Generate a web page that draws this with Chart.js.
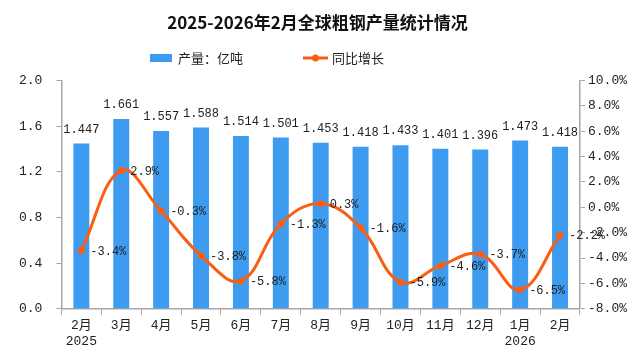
<!DOCTYPE html>
<html>
<head>
<meta charset="utf-8">
<script src="https://cdn.jsdelivr.net/npm/chart.js@4.4.1/dist/chart.umd.min.js"></script>
<style>
  html, body { margin: 0; padding: 0; background: #fff; }
  #wrap { width: 632px; height: 354px; }
</style>
</head>
<body>
<div id="wrap"><canvas id="steelChart" width="632" height="354"></canvas></div>
<script>
// categories and values
const months = [['2月', '2025'], '3月', '4月', '5月', '6月', '7月', '8月', '9月', '10月', '11月', '12月', ['1月', '2026'], '2月'];
const output = [1.447, 1.661, 1.557, 1.588, 1.514, 1.501, 1.453, 1.418, 1.433, 1.401, 1.396, 1.473, 1.418];
const growth = [-3.4, 2.9, -0.3, -3.8, -5.8, -1.3, 0.3, -1.6, -5.9, -4.6, -3.7, -6.5, -2.2];
const leftTicks = [0, 0.4, 0.8, 1.2, 1.6, 2.0];
const rightTicks = [-8, -6, -4, -2, 0, 2, 4, 6, 8, 10];

const BAR_COLOR = '#3d9cf0';
const LINE_COLOR = '#fb5e12';
const MONO = "'Liberation Mono', 'Noto Sans CJK SC', monospace";

// value labels + legend, drawn by hand
const labelsPlugin = {
    id: 'valueLabels',
    afterDatasetsDraw(chart) {
        const ctx = chart.ctx;
        ctx.save();
        ctx.font = '12px ' + MONO;
        ctx.fillStyle = '#222';

        const bars = chart.getDatasetMeta(0).data;
        ctx.textAlign = 'center';
        ctx.textBaseline = 'bottom';
        bars.forEach((bar, i) => {
            ctx.fillText(output[i].toFixed(3), bar.x, bar.y - 8);
        });

        const pts = chart.getDatasetMeta(1).data;
        ctx.textAlign = 'left';
        ctx.textBaseline = 'middle';
        pts.forEach((p, i) => {
            ctx.fillText(growth[i].toFixed(1) + '%', p.x + 9, p.y + 1);
        });
        ctx.restore();
    },
    afterDraw(chart) {
        const ctx = chart.ctx;
        const y = 58;
        ctx.save();
        ctx.fillStyle = BAR_COLOR;
        ctx.fillRect(150, y - 4, 22, 8);
        ctx.strokeStyle = LINE_COLOR;
        ctx.lineWidth = 3;
        ctx.beginPath();
        ctx.moveTo(303, y);
        ctx.lineTo(328, y);
        ctx.stroke();
        ctx.fillStyle = LINE_COLOR;
        ctx.beginPath();
        ctx.arc(315.5, y, 3.5, 0, Math.PI * 2);
        ctx.fill();
        ctx.fillStyle = '#222';
        ctx.font = "13px 'Noto Sans CJK SC', sans-serif";
        ctx.textAlign = 'left';
        ctx.textBaseline = 'middle';
        ctx.fillText('产量：亿吨', 178, y);
        ctx.fillText('同比增长', 332, y);
        ctx.restore();
    }
};

function drawChart() {
    const ctx = document.getElementById('steelChart').getContext('2d');
    new Chart(ctx, {
        type: 'bar',
        data: {
            labels: months,
            datasets: [{
                type: 'bar',
                label: '产量：亿吨',
                data: output,
                backgroundColor: BAR_COLOR,
                yAxisID: 'y',
                categoryPercentage: 1,
                barPercentage: 0.4,
                order: 2
            }, {
                type: 'line',
                label: '同比增长',
                data: growth,
                borderColor: LINE_COLOR,
                backgroundColor: LINE_COLOR,
                borderWidth: 3,
                tension: 0.4,
                pointRadius: 3.5,
                pointHoverRadius: 3.5,
                pointBackgroundColor: LINE_COLOR,
                pointBorderWidth: 0,
                yAxisID: 'y1',
                order: 1
            }]
        },
        options: {
            responsive: false,
            animation: false,
            layout: {
                padding: { left: 5, right: 2, top: 0, bottom: 2 }
            },
            plugins: {
                legend: { display: false },
                tooltip: { enabled: false },
                title: {
                    display: true,
                    text: '2025-2026年2月全球粗钢产量统计情况',
                    color: '#111',
                    font: { family: "'Noto Sans CJK SC', sans-serif", size: 17, weight: 'bold' },
                    padding: { top: 12, bottom: 48 }
                }
            },
            scales: {
                x: {
                    grid: {
                        offset: true,
                        drawOnChartArea: false,
                        drawTicks: true,
                        tickLength: 6,
                        color: '#a6a6a6'
                    },
                    border: { color: '#a6a6a6', width: 1.5 },
                    ticks: {
                        color: '#222',
                        font: { family: MONO, size: 13 },
                        padding: 3,
                        maxRotation: 0,
                        autoSkip: false
                    }
                },
                y: {
                    position: 'left',
                    min: leftTicks[0],
                    max: leftTicks[leftTicks.length - 1],
                    afterBuildTicks(axis) {
                        axis.ticks = leftTicks.map(v => ({ value: v }));
                    },
                    grid: {
                        drawOnChartArea: false,
                        tickLength: 5,
                        color: '#a6a6a6'
                    },
                    border: { color: '#a6a6a6', width: 1.5 },
                    ticks: {
                        color: '#222',
                        font: { family: MONO, size: 13 },
                        padding: 14,
                        callback: v => Number(v).toFixed(1)
                    }
                },
                y1: {
                    position: 'right',
                    min: rightTicks[0],
                    max: rightTicks[rightTicks.length - 1],
                    afterBuildTicks(axis) {
                        axis.ticks = rightTicks.map(v => ({ value: v }));
                    },
                    grid: {
                        drawOnChartArea: false,
                        tickLength: 5,
                        color: '#a6a6a6'
                    },
                    border: { color: '#a6a6a6', width: 1.5 },
                    ticks: {
                        color: '#222',
                        font: { family: MONO, size: 13 },
                        padding: 3,
                        callback: v => Number(v).toFixed(1) + '%'
                    }
                }
            }
        },
        plugins: [labelsPlugin]
    });
}

window.onload = function() {
    drawChart();
};
</script>
</body>
</html>
